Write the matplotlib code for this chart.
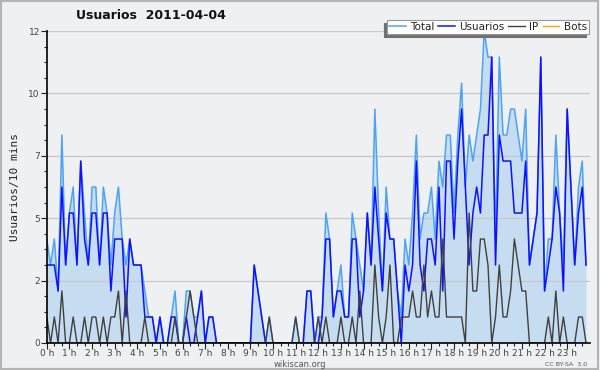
import matplotlib

matplotlib.use("Agg")
import matplotlib.pyplot as plt
from matplotlib.patches import Rectangle
import numpy as np

# values per 10-minute slot, 0:00 .. 23:50
total = [4, 3, 4, 2, 8, 3, 5, 6, 3, 7, 5, 3, 6, 6, 3, 6, 5, 3, 5, 6, 4, 3, 4, 3,
         3, 3, 2, 1, 1, 0, 1, 0, 0, 1, 2, 0, 0, 2, 2, 1, 1, 2, 0, 1, 1, 0, 0, 0,
         0, 0, 0, 0, 0, 0, 0, 3, 2, 1, 0, 1, 0, 0, 0, 0, 0, 0, 1, 0, 0, 2, 2, 0,
         1, 1, 5, 4, 1, 2, 3, 1, 1, 5, 4, 3, 2, 5, 3, 9, 5, 2, 6, 4, 4, 2, 1, 4,
         3, 5, 8, 4, 5, 5, 6, 4, 7, 6, 8, 8, 5, 8, 10, 6, 8, 7, 8, 9, 12, 11, 11, 4,
         11, 8, 8, 9, 9, 8, 7, 9, 3, 4, 5, 11, 2, 4, 4, 8, 5, 3, 9, 6, 3, 6, 7, 3]
usuarios = [3, 3, 3, 2, 6, 3, 5, 5, 3, 7, 4, 3, 5, 5, 3, 5, 5, 2, 4, 4, 4, 1, 4, 3,
            3, 3, 1, 1, 1, 0, 1, 0, 0, 1, 1, 0, 0, 1, 0, 0, 1, 2, 0, 1, 1, 0, 0, 0,
            0, 0, 0, 0, 0, 0, 0, 3, 2, 1, 0, 0, 0, 0, 0, 0, 0, 0, 0, 0, 0, 2, 2, 0,
            0, 1, 4, 4, 1, 2, 2, 1, 1, 4, 4, 1, 2, 5, 3, 6, 4, 2, 5, 4, 4, 2, 0, 3,
            2, 3, 7, 3, 2, 4, 4, 3, 6, 2, 7, 7, 4, 7, 9, 6, 3, 5, 6, 5, 8, 8, 11, 3,
            8, 7, 7, 7, 5, 5, 5, 7, 3, 4, 5, 11, 2, 3, 4, 6, 5, 2, 9, 6, 3, 5, 6, 3]
ip = [1, 0, 1, 0, 2, 0, 0, 1, 0, 0, 1, 0, 1, 1, 0, 1, 0, 1, 1, 2, 0, 2, 0, 0,
      0, 0, 1, 0, 0, 0, 0, 0, 0, 0, 1, 0, 0, 1, 2, 1, 0, 0, 0, 0, 0, 0, 0, 0,
      0, 0, 0, 0, 0, 0, 0, 0, 0, 0, 0, 1, 0, 0, 0, 0, 0, 0, 1, 0, 0, 0, 0, 0,
      1, 0, 1, 0, 0, 0, 1, 0, 0, 1, 0, 2, 0, 0, 0, 3, 1, 0, 1, 3, 0, 0, 1, 1,
      1, 2, 1, 1, 3, 1, 2, 1, 1, 4, 1, 1, 1, 1, 1, 0, 5, 2, 2, 4, 4, 3, 0, 1,
      3, 1, 1, 2, 4, 3, 2, 2, 0, 0, 0, 0, 0, 1, 0, 2, 0, 1, 0, 0, 0, 1, 1, 0]
bots = [0] * 144

ytick_vals = [0, 2.4, 4.8, 7.2, 9.6, 12]
ytick_labels = ["0", "2", "5", "7", "10", "12"]
hour_labels = [f"{h} h" for h in range(24)]

BG = "#eff0f2"
hours = np.arange(len(total)) / 6.0

fig = plt.figure(figsize=(6, 3.7), dpi=100, facecolor=BG)
ax = fig.add_axes([0.078, 0.073, 0.905, 0.843], facecolor=BG)

ax.fill_between(hours, total, 0, color="#c6dcf0", lw=0, zorder=1)
ax.plot(hours, bots, color="#ffa500", lw=1, zorder=1.5, label="Bots")
ax.plot(hours, total, color="#4da3f5", lw=1.1, zorder=2, label="Total")
ax.plot(hours, usuarios, color="#1010ff", lw=1.1, zorder=3, label="Usuarios")
ax.plot(hours, ip, color="#404040", lw=1.0, zorder=4, label="IP")

ax.set_xlim(0, 24)
ax.set_ylim(0, 12)
ax.set_yticks(ytick_vals)
ax.set_yticklabels(ytick_labels)
ax.set_yticks(np.arange(0, 12.01, 0.6), minor=True)
ax.set_xticks(np.arange(24))
ax.set_xticklabels(hour_labels)
ax.set_xticks(np.arange(0, 24, 1 / 3), minor=True)
ax.grid(axis="y", which="major", color="#c8c8c8", lw=0.9, zorder=0)
ax.tick_params(axis="both", which="major", labelsize=6.5, colors="#222",
               labelcolor="#444", length=4, width=0.8, pad=1)
ax.tick_params(axis="x", which="major", pad=0)
ax.tick_params(axis="both", which="minor", length=2.5, width=0.8, colors="#222")
ax.tick_params(axis="x", which="both", direction="out")

for side in ("top", "right"):
    ax.spines[side].set_visible(False)
for side in ("left", "bottom"):
    ax.spines[side].set_linewidth(1.2)
    ax.spines[side].set_zorder(5)

ax.set_ylabel("Usuarios/10 mins", fontsize=8, family="DejaVu Sans Mono",
              color="#222", labelpad=6)

fig.text(0.252, 0.957, "Usuarios  2011-04-04", fontsize=9, fontweight="bold",
         ha="center", va="center", color="#111")

handles, labels = ax.get_legend_handles_labels()
order = [1, 2, 3, 0]
leg = fig.legend([handles[k] for k in order], [labels[k] for k in order],
                 loc="upper right", bbox_to_anchor=(0.99, 0.96), ncol=4,
                 fontsize=7.5, frameon=True, fancybox=False, handlelength=1.6,
                 handletextpad=0.4, columnspacing=0.4, borderpad=0.2,
                 shadow={"ox": -2, "oy": -2, "color": "#707070", "alpha": 1})
leg.get_frame().set_edgecolor("#999999")
leg.get_frame().set_linewidth(0.8)
for t in leg.get_texts():
    t.set_color("#222")

fig.text(0.5, 0.016, "wikiscan.org", fontsize=6, ha="center", va="center",
         color="#555")
fig.text(0.978, 0.016, "CC BY-SA  3.0", fontsize=4.5, ha="right", va="center",
         color="#555")

fig.patches.append(Rectangle((0.002, 0.003), 0.995, 0.994, transform=fig.transFigure,
                             fill=False, edgecolor="#b4b4b4", lw=1.5))

fig.savefig("out.png", dpi=100, facecolor=BG)
